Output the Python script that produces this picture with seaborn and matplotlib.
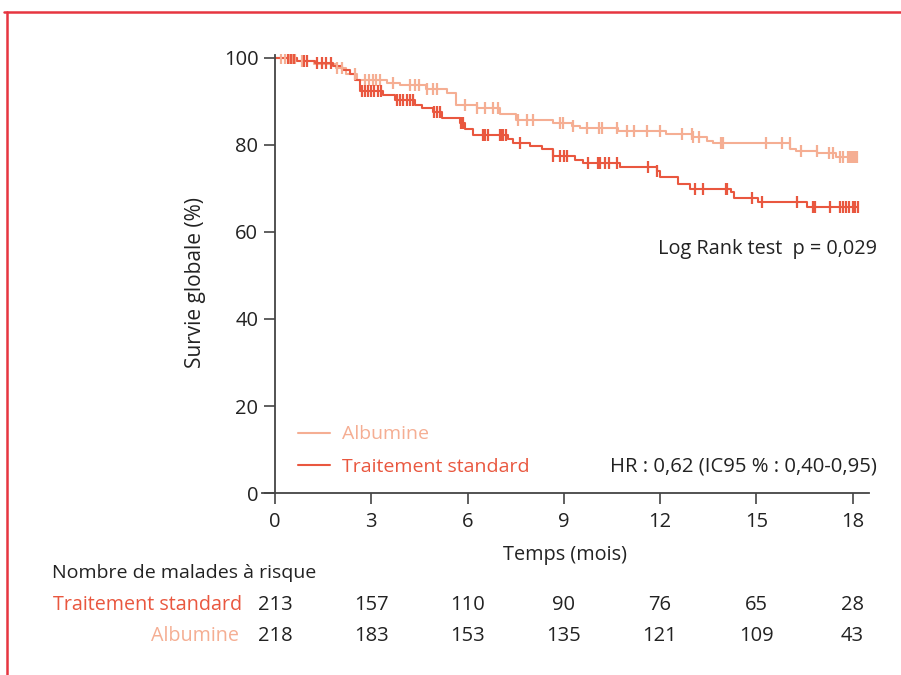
# Imports:
import numpy as np
import pandas as pd
import matplotlib
matplotlib.use("Agg")
import matplotlib.pyplot as plt
from matplotlib.lines import Line2D
import seaborn as sns

# Data:
# Albumine - step times (months) and survival (%) after each step:
alb_times = [0, 0.68, 1.2, 1.9, 2.2, 2.55, 3.5, 3.9, 4.7, 5.35, 5.65, 6.3, 7.0, 7.5,
             8.67, 9.25, 9.5, 10.7, 12.2, 13.0, 13.46, 13.65, 16.05, 16.25, 16.9, 17.5, 18.15]
alb_surv = [100, 99.4, 98.6, 97.6, 96.3, 94.9, 94.2, 93.8, 92.8, 91.9, 89.2, 88.4, 87.2, 85.7,
            85.0, 84.4, 83.8, 83.3, 82.5, 81.9, 80.8, 80.4, 79.0, 78.7, 78.1, 77.3, 77.3]
alb_censor = [0.2, 0.3, 0.47, 0.55, 0.62, 0.84, 1.93, 2.09, 2.49, 2.8, 2.92, 3.04, 3.16, 3.27,
              3.67, 4.2, 4.35, 4.5, 4.73, 4.93, 5.04, 5.92, 6.3, 6.54, 6.8, 6.95, 7.57, 7.85,
              8.04, 8.88, 8.97, 9.28, 9.72, 10.1, 10.2, 10.65, 10.97, 11.2, 11.6, 12.0, 12.68,
              12.99, 13.02, 13.2, 13.9, 13.95, 15.3, 15.8, 16.04, 16.4, 16.88, 17.26, 17.4,
              17.6, 17.7, 17.85, 17.9, 17.95, 18.0, 18.05, 18.1, 18.15]

# Traitement standard:
std_times = [0, 0.68, 1.25, 1.82, 2.08, 2.34, 2.5, 2.65, 3.37, 3.74, 4.36, 4.57, 4.93, 5.19,
             5.76, 5.92, 6.18, 7.27, 7.42, 7.94, 8.31, 8.67, 9.35, 9.6, 10.75, 11.9, 12.0,
             12.55, 12.93, 14.2, 14.3, 15.05, 16.57, 18.15]
std_surv = [100, 99.4, 98.9, 98.2, 97.2, 96.3, 94.9, 92.3, 91.5, 90.3, 89.2, 88.4, 87.6, 86.1,
            85.0, 83.6, 82.3, 81.3, 80.4, 79.8, 79.0, 77.4, 76.6, 75.8, 75.0, 74.1, 72.7,
            71.0, 69.8, 69.3, 67.9, 67.0, 65.8, 65.8]
std_censor = [0.4, 0.5, 0.6, 0.9, 1.0, 1.3, 1.45, 1.6, 1.75, 2.7, 2.8, 2.9, 3.0, 3.1, 3.2, 3.3,
              3.8, 3.9, 4.0, 4.1, 4.2, 4.3, 4.95, 5.05, 5.14, 5.8, 5.87, 6.48, 6.56, 6.64,
              7.0, 7.05, 7.1, 7.2, 7.63, 8.67, 8.88, 9.0, 9.1, 9.75, 10.06, 10.12, 10.28,
              10.4, 10.65, 11.62, 11.9, 13.08, 13.33, 14.05, 14.08, 14.86, 15.17, 16.26,
              16.76, 16.82, 17.29, 17.6, 17.7, 17.8, 17.9, 18.0, 18.08, 18.16]

# At risk table:
risk_months = [0, 3, 6, 9, 12, 15, 18]
risk_std = [213, 157, 110, 90, 76, 65, 28]
risk_alb = [218, 183, 153, 135, 121, 109, 43]

# Colors:
c_alb = "#f5ae93"
c_std = "#e9573f"
c_txt = "#222222"

# Style:
sns.set_theme(style="white")
plt.rcParams["font.family"] = ["Open Sans", "DejaVu Sans"]

# Figure:
fig = plt.figure(figsize=(9.01, 6.75), dpi=100)
ax = fig.add_axes([0.291, 0.2696, 0.673, 0.651])


def surv_at(times, surv, t):
    idx = np.searchsorted(times, t, side="right") - 1
    return np.asarray(surv)[idx]


curves = [
    ("Albumine", alb_times, alb_surv, alb_censor, c_alb),
    ("Traitement standard", std_times, std_surv, std_censor, c_std),
]

for name, times, surv, cens, color in curves:
    df = pd.DataFrame({"t": times, "s": surv})
    sns.lineplot(data=df, x="t", y="s", drawstyle="steps-post", color=color,
                 linewidth=1.5, label=name, ax=ax, estimator=None, sort=False)
    dc = pd.DataFrame({"t": cens, "s": surv_at(times, surv, np.array(cens))})
    sns.scatterplot(data=dc, x="t", y="s", marker="|", s=80, linewidth=1.6,
                    color=color, ax=ax, legend=False, zorder=3)

# Axes:
ax.set_xlim(-0.4, 18.5)
ax.set_ylim(0, 101)
ax.spines["left"].set_position(("data", 0))
ax.spines["left"].set_bounds(0, 100.6)
for s in ["top", "right"]:
    ax.spines[s].set_visible(False)
for s in ["left", "bottom"]:
    ax.spines[s].set_color("#444444")
    ax.spines[s].set_linewidth(1.3)
ax.set_xticks(risk_months)
ax.set_yticks([0, 20, 40, 60, 80, 100])
ax.tick_params(axis="both", which="major", direction="out", length=8, width=1.2,
               color="#444444", labelsize=14.5, labelcolor=c_txt, bottom=True, left=True)
ax.tick_params(axis="x", pad=6)
ax.tick_params(axis="y", pad=4)
ax.set_xlabel("Temps (mois)", fontsize=14.3, color=c_txt, labelpad=9)
ax.set_ylabel("Survie globale (%)", fontsize=15, color=c_txt, labelpad=13, y=0.48)

# Legend:
leg = ax.legend(loc="upper left", bbox_to_anchor=(0.059, 0.154), frameon=False,
                fontsize=14, handlelength=1.65, handletextpad=0.6, labelspacing=0.75,
                borderpad=0, borderaxespad=0)
for txt, line in zip(leg.get_texts(), leg.get_lines()):
    txt.set_color(line.get_color())

# Annotations:
ax.text(1.0135, 0.555, "Log Rank test  p = 0,029", transform=ax.transAxes,
        ha="right", va="center", fontsize=14.3, color=c_txt)
ax.text(1.0135, 0.0614, "HR : 0,62 (IC95 % : 0,40-0,95)", transform=ax.transAxes,
        ha="right", va="center", fontsize=14.6, color=c_txt)

# At risk table:
fig.text(52 / 901, 1 - 573 / 675, "Nombre de malades à risque", ha="left", va="center",
         fontsize=14, color=c_txt)
fig.text(242 / 901, 1 - 605 / 675, "Traitement standard", ha="right", va="center",
         fontsize=14.2, color=c_std)
fig.text(239 / 901, 1 - 636 / 675, "Albumine", ha="right", va="center",
         fontsize=14.2, color=c_alb)
trans = matplotlib.transforms.blended_transform_factory(ax.transData, fig.transFigure)
for m, a, b in zip(risk_months, risk_std, risk_alb):
    ax.text(m, 1 - 605 / 675, str(a), transform=trans, ha="center", va="center",
            fontsize=14.5, color=c_txt, clip_on=False)
    ax.text(m, 1 - 636 / 675, str(b), transform=trans, ha="center", va="center",
            fontsize=14.5, color=c_txt, clip_on=False)

# Frame:
fig.add_artist(Line2D([4 / 901, 1], [1 - 12 / 675, 1 - 12 / 675], color="#e63540",
                      linewidth=1.8, transform=fig.transFigure))
fig.add_artist(Line2D([7 / 901, 7 / 901], [0, 1 - 12 / 675], color="#e63540",
                      linewidth=1.8, transform=fig.transFigure))

# Save:
fig.savefig("out.png", dpi=100)
